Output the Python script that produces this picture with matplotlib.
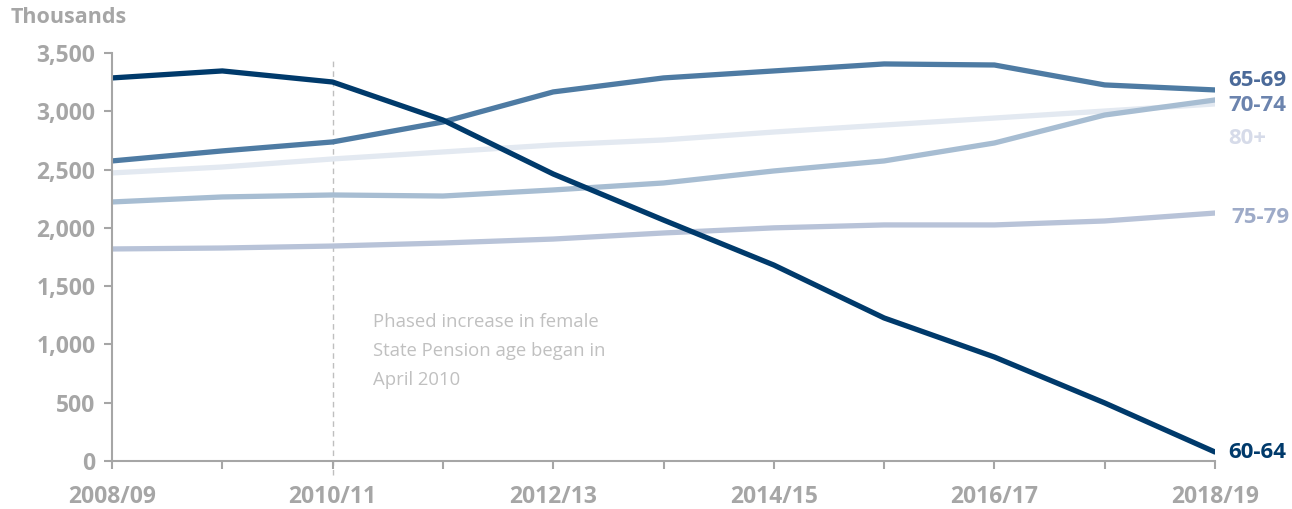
import matplotlib.pyplot as plt

plt.rcParams['font.family'] = ['Open Sans', 'DejaVu Sans']

years = ['2008/09', '2009/10', '2010/11', '2011/12', '2012/13', '2013/14',
         '2014/15', '2015/16', '2016/17', '2017/18', '2018/19']

# thousands of people by age band
age_80_plus = [2471, 2522, 2591, 2651, 2711, 2754, 2822, 2882, 2942, 3002, 3063]
age_75_79 = [1819, 1827, 1844, 1870, 1904, 1956, 2000, 2025, 2025, 2059, 2127]
age_70_74 = [2222, 2265, 2282, 2273, 2325, 2385, 2488, 2574, 2728, 2968, 3097]
age_65_69 = [2574, 2660, 2737, 2908, 3166, 3286, 3346, 3406, 3397, 3226, 3183]
age_60_64 = [3286, 3346, 3251, 2925, 2462, 2067, 1681, 1227, 892, 498, 77]

# name, values, line colour, label colour, label height
series = [
    ('80+', age_80_plus, '#e3e9f1', '#d6dbe9', 2770),
    ('75-79', age_75_79, '#b8c3d8', '#9eabc8', 2090),
    ('70-74', age_70_74, '#a7bdd2', '#6c84ae', 3050),
    ('65-69', age_65_69, '#4e7ba3', '#4b6a99', 3265),
    ('60-64', age_60_64, '#003a6b', '#003a6b', 75),
]

grey = '#a6a6a6'

fig = plt.figure(figsize=(12.92, 5.09), dpi=100)
ax = fig.add_axes([0.0867, 0.0943, 0.8537, 0.8016])

x = list(range(len(years)))
for name, vals, col, lab_col, lab_y in series:
    ax.plot(x, vals, color=col, lw=3.8, solid_capstyle='round')
    dx = 10.15 if name == '75-79' else 10.12
    ax.text(dx, lab_y, name, color=lab_col, fontsize=16, fontweight='bold',
            va='center', ha='left', clip_on=False)

ax.axvline(2, ymin=-0.035, ymax=0.98, color='#bfbfbf', lw=1, ls=(0, (4, 3)),
           clip_on=False, zorder=0)
ax.text(2.37, 944,
        'Phased increase in female\nState Pension age began in\nApril 2010',
        color='#c0c0c0', fontsize=13.3, linespacing=1.8, va='center', ha='left')

ax.set_xlim(0, 10)
ax.set_ylim(0, 3500)
ax.set_xticks(x)
ax.set_xticklabels([y if i % 2 == 0 else '' for i, y in enumerate(years)])
ax.set_yticks(range(0, 3501, 500))
ax.set_yticklabels([f'{v:,}' for v in range(0, 3501, 500)])

for s in ['top', 'right']:
    ax.spines[s].set_visible(False)
for s in ['left', 'bottom']:
    ax.spines[s].set_color(grey)
    ax.spines[s].set_linewidth(1.5)
ax.tick_params(axis='both', colors=grey, width=1.5, length=6, labelsize=16.5)
ax.tick_params(axis='x', pad=11)
ax.tick_params(axis='y', pad=6)
for lab in ax.get_xticklabels() + ax.get_yticklabels():
    lab.set_fontweight('bold')

fig.text(0.008, 0.965, 'Thousands', color=grey, fontsize=15.5, fontweight='bold',
         ha='left', va='center')

fig.savefig('out.png', dpi=100)
